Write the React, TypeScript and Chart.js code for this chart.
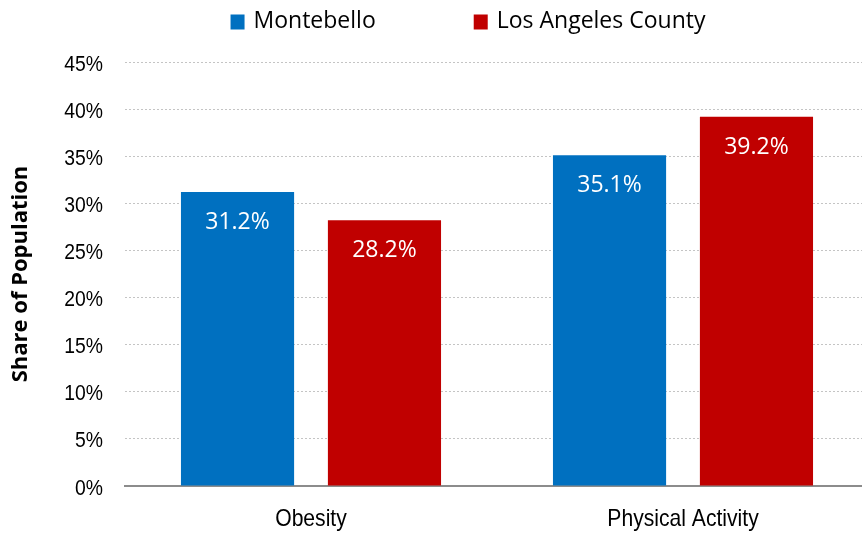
import React, { useEffect, useRef } from "react";
import { Chart, registerables } from "chart.js";

Chart.register(...registerables);

const categories = ["Obesity", "Physical Activity"];
const montebello = [31.2, 35.1];
const laCounty = [28.2, 39.2];
const seriesNames = ["Montebello", "Los Angeles County"];
const seriesColors = ["#0070c0", "#c00000"];
const yTicks = [0, 5, 10, 15, 20, 25, 30, 35, 40, 45];

const NARROW = "'Liberation Sans', Arial, sans-serif";
const CAL = "'Open Sans', sans-serif";

function drawNarrow(ctx: any, text: string, x: number, y: number, size: number, align: string, sx: number) {
  ctx.save();
  ctx.font = `${size}px ${NARROW}`;
  ctx.textBaseline = "alphabetic";
  ctx.fillStyle = "#000";
  const w = ctx.measureText(text).width * sx;
  let left = x;
  if (align === "center") left = x - w / 2;
  else if (align === "right") left = x - w;
  ctx.translate(left, y);
  ctx.scale(sx, 1);
  ctx.textAlign = "left";
  ctx.fillText(text, 0, 0);
  ctx.restore();
}

const textPlugin = {
  id: "customText",
  afterDraw(chart: any) {
    const ctx = chart.ctx;
    const ys = chart.scales.y;
    const xs = chart.scales.x;
    // y tick labels
    ys.ticks.forEach((t: any) => {
      const py = ys.getPixelForValue(t.value);
      drawNarrow(ctx, t.value + "%", 103, py + 8.5, 22, "right", 0.88);
    });
    // x category labels
    xs.ticks.forEach((t: any, i: number) => {
      const px = xs.getPixelForTick(i);
      drawNarrow(ctx, categories[i], px, 526, 24, "center", 0.88);
    });
    // bar value labels
    ctx.save();
    ctx.fillStyle = "#ffffff";
    ctx.font = `23px ${CAL}`;
    ctx.textAlign = "center";
    ctx.textBaseline = "alphabetic";
    chart.data.datasets.forEach((ds: any, i: number) => {
      const meta = chart.getDatasetMeta(i);
      meta.data.forEach((bar: any, j: number) => {
        ctx.fillText(ds.data[j].toFixed(1) + "%", bar.x, bar.y + 37);
      });
    });
    ctx.restore();
    // legend
    ctx.save();
    ctx.font = `23px ${CAL}`;
    ctx.textBaseline = "middle";
    ctx.textAlign = "left";
    const box = 14;
    const gapText = 9;
    const gapItem = 98;
    const widths = seriesNames.map((n) => ctx.measureText(n).width);
    const total = widths.reduce((a, w) => a + box + gapText + w, 0) + gapItem * (seriesNames.length - 1);
    let x = 468 - total / 2;
    const cy = 21.5;
    seriesNames.forEach((n, i) => {
      ctx.fillStyle = seriesColors[i];
      ctx.fillRect(x, cy - box / 2, box, box + 1);
      ctx.fillStyle = "#000";
      ctx.fillText(n, x + box + gapText, cy);
      x += box + gapText + widths[i] + gapItem;
    });
    ctx.restore();
  },
};

export default function App() {
  const ref = useRef<HTMLCanvasElement>(null);
  useEffect(() => {
    const canvas = ref.current!;
    const chart = new Chart(canvas, {
      type: "bar",
      data: {
        labels: categories,
        datasets: [
          {
            label: seriesNames[0],
            data: montebello,
            backgroundColor: seriesColors[0],
            categoryPercentage: 0.79,
            barPercentage: 0.77,
          },
          {
            label: seriesNames[1],
            data: laCounty,
            backgroundColor: seriesColors[1],
            categoryPercentage: 0.79,
            barPercentage: 0.77,
          },
        ],
      },
      options: {
        responsive: false,
        animation: false,
        layout: { padding: { top: 62, right: 1, bottom: 0, left: 0 } },
        plugins: {
          tooltip: { enabled: false },
          legend: { display: false },
        },
        scales: {
          x: {
            grid: { display: false },
            border: { display: true, color: "#8c8c8c", width: 2 },
            ticks: { display: false },
            afterFit: (axis: any) => {
              axis.height = 49;
            },
          },
          y: {
            min: 0,
            max: 45,
            afterBuildTicks: (axis: any) => {
              axis.ticks = yTicks.map((v) => ({ value: v }));
            },
            afterFit: (axis: any) => {
              axis.width = 125;
            },
            grid: { color: "#c4c4c4", drawTicks: false },
            border: { display: false, dash: [2, 2] },
            ticks: { display: false },
            title: {
              display: true,
              text: "Share of Population",
              color: "#000",
              padding: { top: 8, bottom: 0 },
              font: { family: CAL, size: 22, weight: "bold" },
            },
          },
        },
      },
      plugins: [textPlugin],
    });
    return () => chart.destroy();
  }, []);
  return (
    <div style={{ position: "absolute", left: 0, top: 0, width: 862, height: 535, overflow: "hidden", background: "#fff" }}>
      <canvas ref={ref} width={870} height={535} style={{ display: "block" }} />
    </div>
  );
}
